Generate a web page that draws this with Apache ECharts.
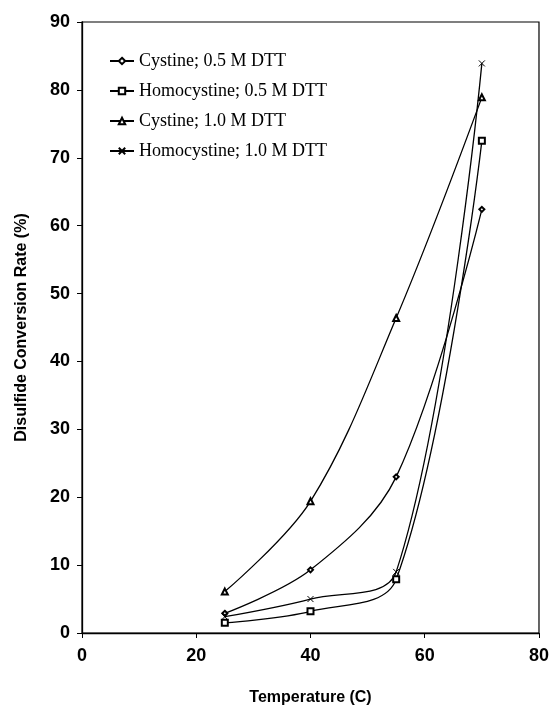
<!DOCTYPE html>
<html>
<head>
<meta charset="utf-8">
<script src="https://cdn.jsdelivr.net/npm/echarts@6/dist/echarts.min.js"></script>
<style>
html, body { margin: 0; padding: 0; background: #fff; }
#chart { width: 552px; height: 715px; }
</style>
</head>
<body>
<div id="chart"></div>
<script>
var temps = [25, 40, 55, 70];
var cystine05 = [2.9, 9.3, 23.0, 62.4];
var homocystine05 = [1.5, 3.2, 7.9, 72.5];
var cystine10 = [6.1, 19.4, 46.4, 78.9];
var homocystine10 = [2.4, 5.0, 9.0, 83.9];
var seriesNames = [
  'Cystine; 0.5 M DTT',
  'Homocystine; 0.5 M DTT',
  'Cystine; 1.0 M DTT',
  'Homocystine; 1.0 M DTT'
];

function pairs(ys) {
  return temps.map(function (t, i) { return [t, ys[i]]; });
}

var crossPath = 'path://M0,0L10,10M10,0L0,10';

function makeSeries(name, ys, symbol, size) {
  return {
    name: name,
    type: 'line',
    smooth: 0.35,
    data: pairs(ys),
    symbol: symbol,
    symbolSize: size,
    lineStyle: { color: '#000', width: 1.3 },
    itemStyle: { color: '#000', borderColor: '#000', borderWidth: 1 },
    emphasis: { disabled: true }
  };
}

var chart = echarts.init(document.getElementById('chart'), null, { renderer: 'canvas' });
var option = {
  animation: false,
  backgroundColor: '#fff',
  grid: {
    left: 82, top: 22, right: 12, bottom: 82,
    show: true, borderColor: '#000', borderWidth: 1.2, backgroundColor: 'transparent'
  },
  legend: {
    left: 104, top: 47, orient: 'vertical', itemGap: 12,
    itemWidth: 24, itemHeight: 8, itemTextGap: 10,
    data: seriesNames,
    textStyle: { fontFamily: 'Liberation Serif', fontSize: 18, color: '#000' }
  },
  xAxis: {
    type: 'value', min: 0, max: 80, interval: 20,
    name: 'Temperature (C)', nameLocation: 'middle', nameGap: 57,
    nameTextStyle: { fontFamily: 'Liberation Sans', fontWeight: 'bold', fontSize: 16, color: '#000' },
    axisLine: { lineStyle: { color: '#000', width: 1.3 } },
    axisTick: { inside: false, length: 5, lineStyle: { color: '#000' } },
    axisLabel: { fontFamily: 'Liberation Sans', fontWeight: 'bold', fontSize: 18, color: '#000', margin: 14 },
    splitLine: { show: false }
  },
  yAxis: {
    type: 'value', min: 0, max: 90, interval: 10,
    name: 'Disulfide Conversion Rate (%)', nameLocation: 'middle', nameGap: 52,
    nameTextStyle: { fontFamily: 'Liberation Sans', fontWeight: 'bold', fontSize: 16, color: '#000' },
    axisLine: { lineStyle: { color: '#000', width: 1.3 } },
    axisTick: { inside: false, length: 5, lineStyle: { color: '#000' } },
    axisLabel: { fontFamily: 'Liberation Sans', fontWeight: 'bold', fontSize: 18, color: '#000', margin: 12 },
    splitLine: { show: false }
  },
  series: [
    makeSeries(seriesNames[0], cystine05, 'emptyDiamond', 5),
    makeSeries(seriesNames[1], homocystine05, 'emptyRect', 6),
    makeSeries(seriesNames[2], cystine10, 'emptyTriangle', 6),
    makeSeries(seriesNames[3], homocystine10, crossPath, 6)
  ]
};
chart.setOption(option);
</script>
</body>
</html>
